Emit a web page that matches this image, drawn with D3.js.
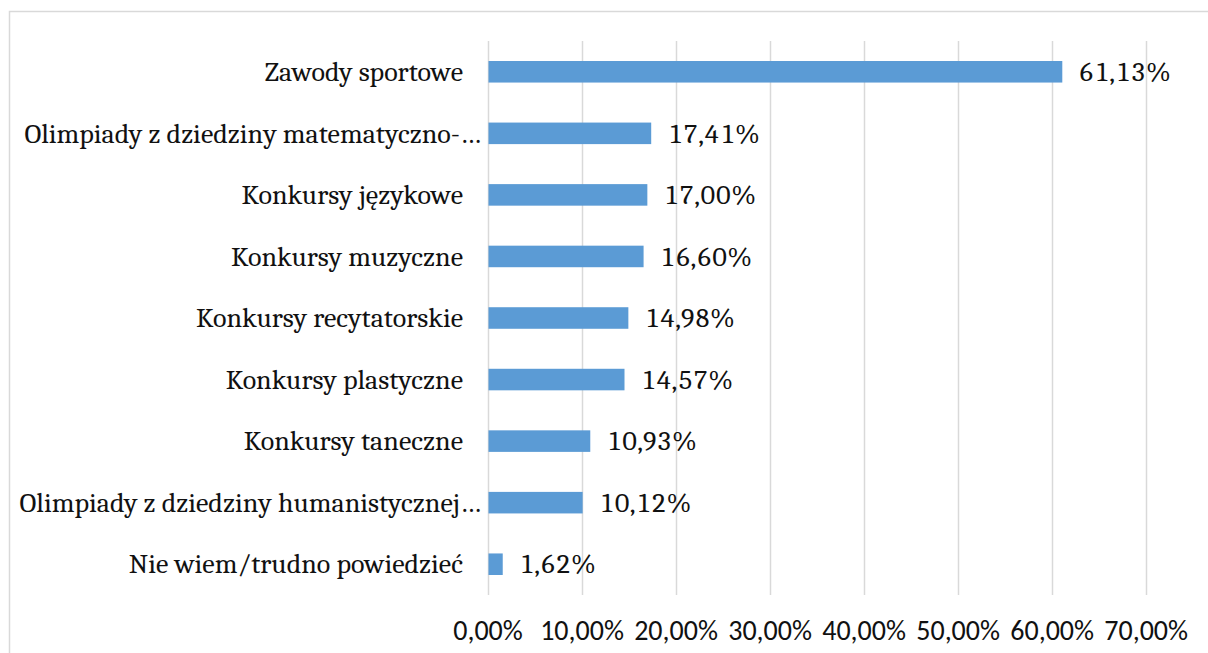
<!DOCTYPE html>
<html><head><meta charset="utf-8">
<script src="https://cdn.jsdelivr.net/npm/d3@7"></script>
<style>
html,body{margin:0;padding:0;background:#fff;}
svg{display:block;}
.serif{font-family:Cambria,Caladea,"Liberation Serif",serif;fill:#111;}
.sans{font-family:Calibri,Carlito,"Liberation Sans",sans-serif;fill:#111;}
.num{font-variant-numeric:tabular-nums;font-feature-settings:"tnum" 1;}
</style></head><body>
<svg id="chart" width="1208" height="653"></svg>
<script>
const categories = [
  "Zawody sportowe",
  "Olimpiady z dziedziny matematyczno-…",
  "Konkursy językowe",
  "Konkursy muzyczne",
  "Konkursy recytatorskie",
  "Konkursy plastyczne",
  "Konkursy taneczne",
  "Olimpiady z dziedziny humanistycznej…",
  "Nie wiem/trudno powiedzieć"
];
const values = [61.13, 17.41, 17.00, 16.60, 14.98, 14.57, 10.93, 10.12, 1.62];
const tickValues = [0, 10, 20, 30, 40, 50, 60, 70];
const fmt = v => v.toFixed(2).replace(".", ",") + "%";

const svg = d3.select("#chart");
svg.append("rect").attr("x", 9.5).attr("y", 11.5).attr("width", 1400).attr("height", 800)
  .attr("fill", "none").attr("stroke", "#d9d9d9").attr("stroke-width", 1.5);

const x = d3.scaleLinear().domain([0, 70]).range([487.5, 1145.7]);
const y = d3.scaleBand().domain(categories).range([41, 595]).paddingInner(0.65).paddingOuter(0.325);

// gridlines
svg.append("g").selectAll("line").data(tickValues).join("line")
  .attr("x1", d => Math.round(x(d)) + 0.5).attr("x2", d => Math.round(x(d)) + 0.5)
  .attr("y1", 41).attr("y2", 595)
  .attr("stroke", "#d9d9d9").attr("stroke-width", 1.5);

// x tick labels
const xAxis = d3.axisBottom(x).tickValues(tickValues).tickFormat(fmt).tickSize(0).tickPadding(0);
const gx = svg.append("g").attr("transform", "translate(0,640)").call(xAxis);
gx.select(".domain").remove();
gx.attr("font-family", null).attr("font-size", null);
gx.selectAll("text").attr("class", "sans").attr("font-size", 28).attr("dy", 0).attr("y", 0)
  .attr("fill", null);

// bars
svg.append("g").selectAll("rect").data(values).join("rect")
  .attr("x", x(0) + 1)
  .attr("y", (d, i) => y(categories[i]))
  .attr("width", d => x(d) - x(0) - 1)
  .attr("height", y.bandwidth())
  .attr("fill", "#5b9bd5");

// data labels
svg.append("g").selectAll("text").data(values).join("text")
  .attr("class", "serif num")
  .attr("x", d => x(d) + 16)
  .attr("y", (d, i) => y(categories[i]) + y.bandwidth() / 2)
  .attr("dy", "0.33em")
  .attr("font-size", 28)
  .text(fmt);

// category labels
const yAxis = d3.axisLeft(y).tickSize(0).tickPadding(0);
const gy = svg.append("g").attr("transform", "translate(463,0)").call(yAxis);
gy.select(".domain").remove();
gy.attr("font-family", null).attr("font-size", null);
gy.selectAll("text").attr("class", "serif").attr("font-size", 28).attr("fill", null)
  .attr("x", d => d.endsWith("…") ? 18 : 0)
  .attr("dy", "0.33em");
</script>
</body></html>
